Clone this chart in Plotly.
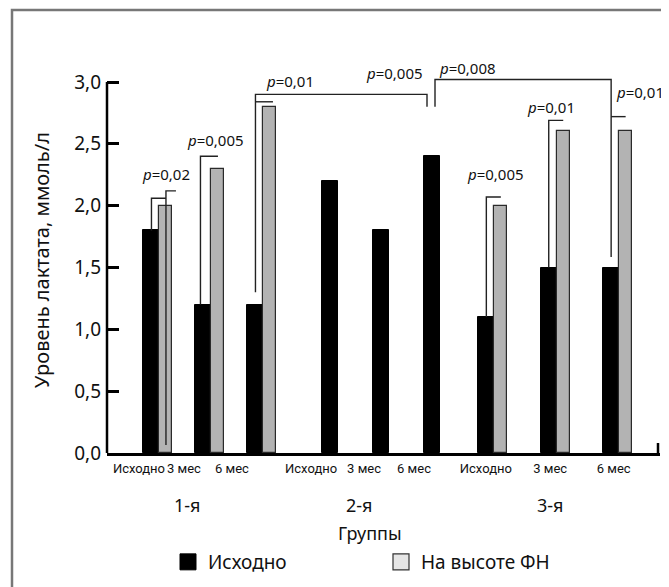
import plotly.graph_objects as go

# ---------------- data ----------------
tick_labels = ["Исходно", "3 мес", "6 мес", "Исходно", "3 мес", "6 мес", "Исходно", "3 мес", "6 мес"]
group_labels = ["1-я", "2-я", "3-я"]
baseline = [1.8, 1.2, 1.2, 2.2, 1.8, 2.4, 1.1, 1.5, 1.5]          # Исходно
peak = [2.0, 2.3, 2.8, None, None, None, 2.0, 2.6, 2.6]          # На высоте ФН
y_ticks = [0, 0.5, 1.0, 1.5, 2.0, 2.5, 3.0]
y_tick_text = ["0,0", "0,5", "1,0", "1,5", "2,0", "2,5", "3,0"]

# p-value brackets: polyline vertices (slot, series, dx_px, y)
brackets = [
    [(0, "b", 0, 1.8), (0, "b", 0, 2.06), (0, "g", 0, 2.06)],
    [(0, "g", 0, 0.065), (0, "g", 0, 2.12), (0, "g", 10, 2.12)],
    [(1, "b", -3, 1.2), (1, "b", -3, 2.40), (1, "g", 0, 2.40)],
    [(2, "b", 0, 1.30), (2, "b", 0, 2.90), (5, "b", -5, 2.90), (5, "b", -5, 2.80)],
    [(2, "b", 0, 2.84), (2, "g", 3, 2.84)],
    [(5, "b", 3, 2.80), (5, "b", 3, 3.02), (8, "b", 0, 3.02), (8, "b", 0, 1.585)],
    [(8, "b", 0, 2.72), (8, "g", 0, 2.72)],
    [(7, "b", 0, 1.5), (7, "b", 0, 2.69), (7, "g", 0, 2.69)],
    [(6, "b", 0, 1.1), (6, "b", 0, 2.07), (6, "g", 0, 2.07)],
]
# p-value labels: (slot, dx_px, y, text)
p_labels = [
    (0, 8, 2.26, "0,02"),
    (1, 6, 2.53, "0,005"),
    (2, 28, 3.01, "0,01"),
    (5, -38, 3.07, "0,005"),
    (5, 35, 3.11, "0,008"),
    (8, 22, 2.92, "0,01"),
    (7, -4, 2.80, "0,01"),
    (6, 3, 2.26, "0,005"),
]

# ---------------- layout geometry ----------------
OFF = 8                      # default page body margin
W, H = 669 - OFF, 587 - OFF
ML, MR, MT, MB = 99, 9, 31, 134
PW = W - ML - MR
PH = H - MT - MB
PX_PER_Y = 371 / 3.0
YMAX = PH / PX_PER_Y
UNIT = 52.0  # px per x unit
group_centers = [1.98, 5.27, 8.62]
group_spacing = [1.0, 0.98, 1.2]
BW_B, BW_G = 16 / UNIT, 13 / UNIT

def pxp_x(rx):  # page pixel -> paper x
    return (rx - OFF - ML) / PW

def pxp_y(ry):  # page pixel -> paper y
    return (MT + PH - (ry - OFF)) / PH

slot_x = []
for g in range(3):
    for k in range(3):
        slot_x.append(group_centers[g] + (k - 1) * group_spacing[g])

def bar_center(i, s):
    if peak[i] is None:
        return slot_x[i]
    return slot_x[i] + (-6.5 / UNIT if s == "b" else 8 / UNIT)

xb = [bar_center(i, "b") for i in range(9)]
xg = [bar_center(i, "g") for i in range(9)]

tick_shift_px = [-19, -26, -30, -19, -17, -18, -7, -5, -4]
tick_pos = [slot_x[i] + tick_shift_px[i] / UNIT for i in range(9)]

FONT = "Noto Sans, DejaVu Sans, sans-serif"
NARROW = "Roboto, Noto Sans, sans-serif"
TXT = "#111"

fig = go.Figure()
fig.add_trace(go.Bar(x=xb, y=baseline, width=BW_B, marker=dict(color="#000000", line=dict(color="#000000", width=1)),
                     showlegend=False, hoverinfo="skip"))
fig.add_trace(go.Bar(x=xg, y=peak, width=BW_G, marker=dict(color="#b3b3b3", line=dict(color="#2a2a2a", width=1.2)),
                     showlegend=False, hoverinfo="skip"))
# legend proxies
fig.add_trace(go.Scatter(x=[None], y=[None], mode="markers", name="Исходно",
                         marker=dict(symbol="square", size=16, color="#000000", line=dict(color="#000", width=1))))
fig.add_trace(go.Scatter(x=[None], y=[None], mode="markers", name="На высоте ФН",
                         marker=dict(symbol="square", size=16, color="#e6e6e6", line=dict(color="#333", width=1.2))))

shapes = []
for br in brackets:
    pts = [((xb[s] if ser == "b" else xg[s]) + dx / UNIT, y) for (s, ser, dx, y) in br]
    path = "M " + " L ".join(f"{x:.4f},{y:.4f}" for x, y in pts)
    shapes.append(dict(type="path", path=path, xref="x", yref="y", line=dict(color="#222", width=1.4)))

# y axis line (0 .. 3,0)
shapes.append(dict(type="line", xref="paper", yref="y", x0=0, x1=0, y0=0, y1=3.0,
                   line=dict(color="#000", width=2.5)))
# right end tick of x axis
shapes.append(dict(type="line", xref="paper", yref="paper", x0=1 - 2 / PW, x1=1 - 2 / PW, y0=0, y1=10 / PH,
                   line=dict(color="#000", width=2.5)))
# outer frame (left and top edges)
fx, fy = pxp_x(12), pxp_y(10)
shapes.append(dict(type="path", xref="paper", yref="paper",
                   path=f"M {fx},{-MB / PH - 0.1} L {fx},{fy} L {1 + 0.1},{fy}",
                   line=dict(color="#777", width=2.5)))

annotations = []
for (s, dx, y, t) in p_labels:
    annotations.append(dict(x=slot_x[s], y=y, xref="x", yref="y", xshift=dx, text="<i>p</i>=" + t,
                            showarrow=False, font=dict(family=FONT, size=15, color=TXT)))
group_shift_px = [-23, -22, -5]
for g in range(3):
    annotations.append(dict(x=group_centers[g], y=0, xref="x", yref="paper", xshift=group_shift_px[g], yshift=-52,
                            text=group_labels[g], showarrow=False, yanchor="middle",
                            font=dict(family=FONT, size=18, color=TXT)))
annotations.append(dict(x=pxp_x(370), y=pxp_y(533), xref="paper", yref="paper",
                        text="Группы", showarrow=False, yanchor="middle",
                        font=dict(family=FONT, size=18, color=TXT)))
annotations.append(dict(x=pxp_x(42), y=pxp_y(260), xref="paper", yref="paper", textangle=-90,
                        text="Уровень лактата, ммоль/л", showarrow=False, xanchor="center", yanchor="middle",
                        font=dict(family=FONT, size=20, color=TXT)))

fig.update_layout(
    width=W, height=H,
    margin=dict(l=ML, r=MR, t=MT, b=MB, autoexpand=False),
    paper_bgcolor="white", plot_bgcolor="white",
    bargap=0, barmode="overlay",
    shapes=shapes, annotations=annotations,
    xaxis=dict(range=[0, PW / UNIT], showgrid=False, zeroline=False, showline=True, linecolor="#000", linewidth=2.5,
               tickmode="array", tickvals=tick_pos, ticktext=tick_labels, ticks="", ticklabelstandoff=2,
               tickangle=0, tickfont=dict(family=NARROW, size=13, color=TXT), fixedrange=True),
    yaxis=dict(range=[0, YMAX], showgrid=False, zeroline=False, showline=False,
               tickmode="array", tickvals=y_ticks, ticktext=y_tick_text, ticks="inside", ticklen=12,
               tickwidth=2.5, tickcolor="#000", ticklabelstandoff=5,
               tickfont=dict(family=FONT, size=19, color=TXT), fixedrange=True),
    legend=dict(orientation="h", x=(160 - ML) / PW, y=pxp_y(562), xanchor="left", yanchor="middle",
                font=dict(family=FONT, size=19, color=TXT), entrywidth=168, entrywidthmode="pixels",
                bgcolor="rgba(0,0,0,0)"),
)

fig.write_html("out.html")
